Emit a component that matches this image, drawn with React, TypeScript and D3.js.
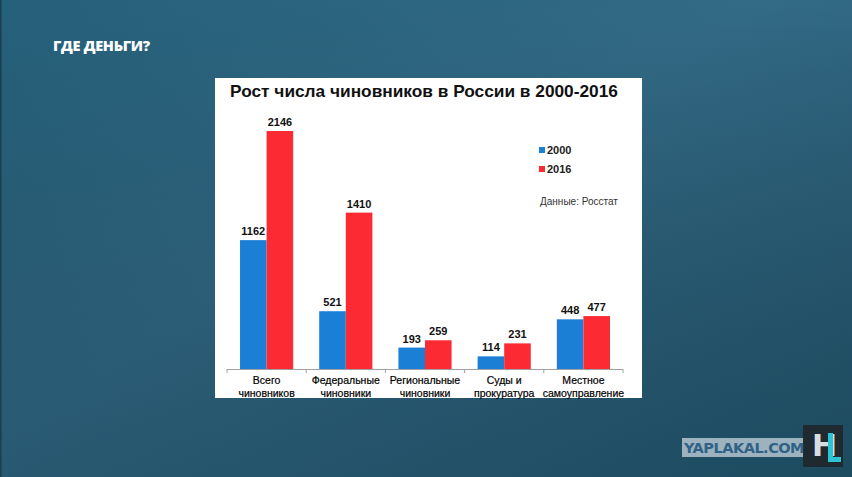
import React from "react";
import * as d3 from "d3";

const categories = [
  ["Всего", "чиновников"],
  ["Федеральные", "чиновники"],
  ["Региональные", "чиновники"],
  ["Суды и", "прокуратура"],
  ["Местное", "самоуправление"],
];
const seriesNames = ["2000", "2016"];
const values2000 = [1162, 521, 193, 114, 448];
const values2016 = [2146, 1410, 259, 231, 477];
const colors = ["#1c7fd6", "#fb2a33"];

export default function App() {
  const W = 852, H = 477;
  const x0 = d3.scaleBand<number>().domain(d3.range(categories.length)).range([227, 623]).paddingInner(0).paddingOuter(0);
  const x1 = d3.scaleBand<number>().domain([0, 1]).range([0, x0.bandwidth()]).paddingOuter(0.49).paddingInner(0);
  const y = d3.scaleLinear().domain([0, 2146]).range([369, 131]);
  const series = [values2000, values2016];
  const ticks = d3.range(categories.length + 1).map((i) => 227 + i * x0.bandwidth());
  const font = "Arial, 'Liberation Sans', sans-serif";

  return (
    <svg width={W} height={H} style={{ position: "absolute", left: 0, top: 0 }} fontFamily={font}>
      <defs>
        <linearGradient id="bg" x1="0" y1="0" x2="1" y2="1">
          <stop offset="0" stopColor="#25607a" />
          <stop offset="0.45" stopColor="#336a86" />
          <stop offset="1" stopColor="#23566d" />
        </linearGradient>
        <linearGradient id="bg2" x1="0" y1="0" x2="0" y2="1">
          <stop offset="0" stopColor="#000" stopOpacity="0" />
          <stop offset="1" stopColor="#0a2a3a" stopOpacity="0.25" />
        </linearGradient>
      </defs>
      <rect width={W} height={H} fill="url(#bg)" />
      <rect width={W} height={H} fill="url(#bg2)" />
      <rect x={0} y={0} width={1.5} height={H} fill="#183e50" />

      <text x={53} y={51} fill="#ffffff" fontFamily="'Open Sans', sans-serif" fontWeight={800} fontSize={14.5} letterSpacing={-0.3}>
        ГДЕ ДЕНЬГИ?
      </text>

      <rect x={215} y={78} width={427} height={320} fill="#ffffff" />

      <text x={424} y={97} textAnchor="middle" fontWeight="bold" fontSize={17.3} fill="#111">
        Рост числа чиновников в России в 2000-2016
      </text>

      {series.map((vals, s) =>
        vals.map((v, i) => {
          const bx = (x0(i) as number) + (x1(s) as number);
          return (
            <g key={`${s}-${i}`}>
              <rect x={bx} y={y(v)} width={x1.bandwidth()} height={369 - y(v)} fill={colors[s]} />
              <text x={bx + x1.bandwidth() / 2} y={y(v) - 5} textAnchor="middle" fontWeight="bold" fontSize={11} fill="#111">
                {v}
              </text>
            </g>
          );
        })
      )}

      <line x1={227} x2={623} y1={369.5} y2={369.5} stroke="#a0a0a0" strokeWidth={1} />
      {ticks.map((t, i) => (
        <line key={i} x1={t} x2={t} y1={369} y2={373} stroke="#a0a0a0" strokeWidth={1} />
      ))}

      {categories.map((c, i) => (
        <g key={i}>
          {c.map((line, j) => (
            <text key={j} x={(x0(i) as number) + x0.bandwidth() / 2} y={384 + j * 12.5} textAnchor="middle" fontSize={10.5} fill="#000" stroke="#000" strokeWidth={0.2}>
              {line}
            </text>
          ))}
        </g>
      ))}

      {seriesNames.map((n, i) => (
        <g key={n}>
          <rect x={539} y={147 + i * 19} width={6} height={6} fill={colors[i]} />
          <text x={547} y={154 + i * 19} fontWeight="bold" fontSize={11} fill="#222">
            {n}
          </text>
        </g>
      ))}
      <text x={540} y={204.5} fontSize={10} fill="#333">
        Данные: Росстат
      </text>

      <rect x={682} y={438} width={146} height={19} fill="#c7d4dc" opacity={0.75} />
      <rect x={803} y={425} width={40} height={42} fill="#1e2a30" />
      <text x={812} y={456} fontWeight="bold" fontSize={30} fill="#d8dde0" fontFamily="'DejaVu Sans', sans-serif">H</text>
      <path d="M828,433 h5 v24 h8 v5 h-13 z" fill="#2bc4d4" />
      <text x={684} y={453} fontWeight={900} fontSize={14.5} fill="#2f6286" fontFamily="'DejaVu Sans', sans-serif" letterSpacing={-0.5}>
        YAPLAKAL.COM
      </text>
    </svg>
  );
}
